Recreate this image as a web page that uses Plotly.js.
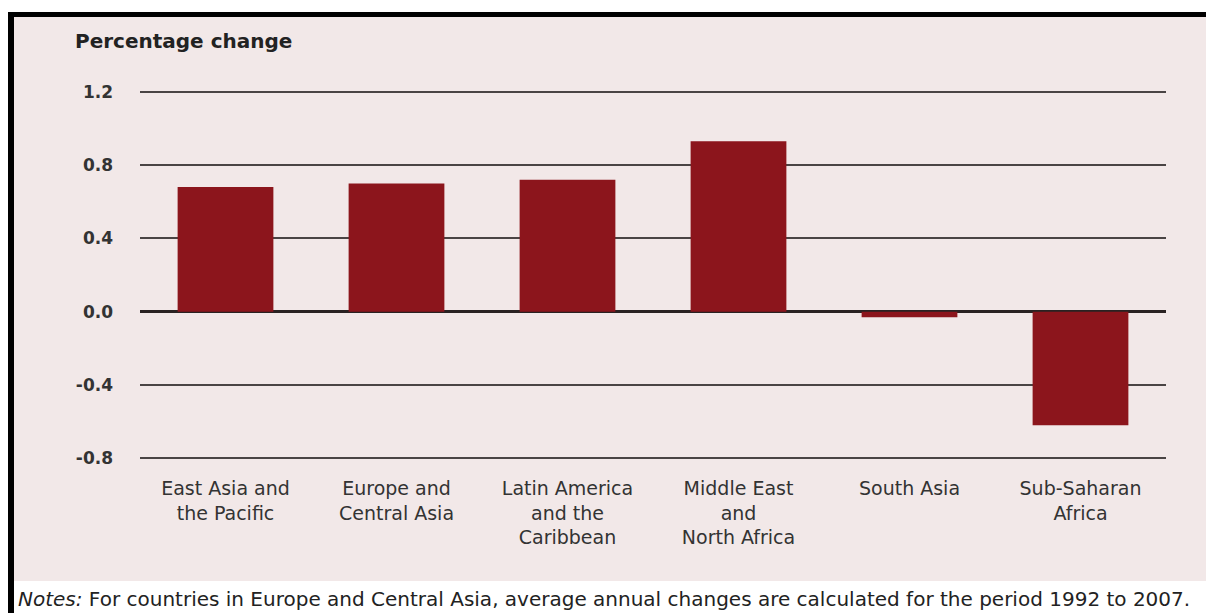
<!DOCTYPE html>
<html>
<head>
<meta charset="utf-8">
<script src="https://cdn.plot.ly/plotly-3.0.1.min.js"></script>
<style>html,body{margin:0;padding:0;background:#fff;}#chart{width:1206px;height:613px;}</style>
</head>
<body>
<div id="chart"></div>
<script>
const categories = [
  "East Asia and<br>the Pacific",
  "Europe and<br>Central Asia",
  "Latin America<br>and the<br>Caribbean",
  "Middle East<br>and<br>North Africa",
  "South Asia",
  "Sub-Saharan<br>Africa"
];
const values = [0.68, 0.70, 0.72, 0.93, -0.03, -0.62];
const tickValues = [-0.8, -0.4, 0.0, 0.4, 0.8, 1.2];
const tickLabels = ["-0.8", "-0.4", "0.0", "0.4", "0.8", "1.2"];
const yTitle = "Percentage change";
const noteText = "<i>Notes:</i> For countries in Europe and Central Asia, average annual changes are calculated for the period 1992 to 2007.";

const W = 1206, H = 613;
const L = 140, R = 40, T = 90, B = 153;
const pw = W - L - R, ph = H - T - B;
const px = x => (x - L) / pw;
const py = y => (H - B - y) / ph;

const pink = "#f2e8e8";
const font = "DejaVu Sans, sans-serif";

const trace = {
  type: "bar",
  x: categories,
  y: values,
  width: 0.56,
  marker: {color: "#8c151c", line: {width: 0}},
  hoverinfo: "skip"
};

const layout = {
  width: W, height: H,
  margin: {l: L, r: R, t: T, b: B, pad: 0},
  paper_bgcolor: "#ffffff",
  plot_bgcolor: pink,
  showlegend: false,
  font: {family: font, color: "#333333"},
  xaxis: {
    type: "category",
    showgrid: false, zeroline: false, showline: false,
    ticks: "", tickfont: {family: font, size: 19, color: "#333333"},
    ticklabelstandoff: 15,
    fixedrange: true
  },
  yaxis: {
    range: [-0.81, 1.21],
    tickvals: tickValues, ticktext: tickLabels,
    showgrid: true, gridcolor: "#4a4444", gridwidth: 2,
    zeroline: true, zerolinecolor: "#2a2222", zerolinewidth: 2.5,
    showline: false, ticks: "",
    tickfont: {family: font, size: 17, color: "#333333", weight: "bold"},
    ticklabelstandoff: 26,
    fixedrange: true
  },
  shapes: [
    {type: "rect", xref: "paper", yref: "paper", layer: "below",
     x0: px(14), x1: px(1206), y0: py(581), y1: py(17),
     fillcolor: pink, line: {width: 0}},
    {type: "rect", xref: "paper", yref: "paper", layer: "below",
     x0: px(8), x1: px(1206), y0: py(17), y1: py(12),
     fillcolor: "#000000", line: {width: 0}},
    {type: "rect", xref: "paper", yref: "paper", layer: "below",
     x0: px(8), x1: px(14), y0: py(613), y1: py(12),
     fillcolor: "#000000", line: {width: 0}}
  ],
  annotations: [
    {xref: "paper", yref: "paper", x: px(73), y: py(41), xanchor: "left", yanchor: "middle",
     text: "<b>" + yTitle + "</b>", showarrow: false,
     font: {family: font, size: 20, color: "#222222"}},
    {xref: "paper", yref: "paper", x: px(16), y: py(599), xanchor: "left", yanchor: "middle",
     text: noteText, showarrow: false,
     font: {family: font, size: 20, color: "#222222"}}
  ]
};

Plotly.newPlot("chart", [trace], layout, {displayModeBar: false, staticPlot: true});
</script>
</body>
</html>
